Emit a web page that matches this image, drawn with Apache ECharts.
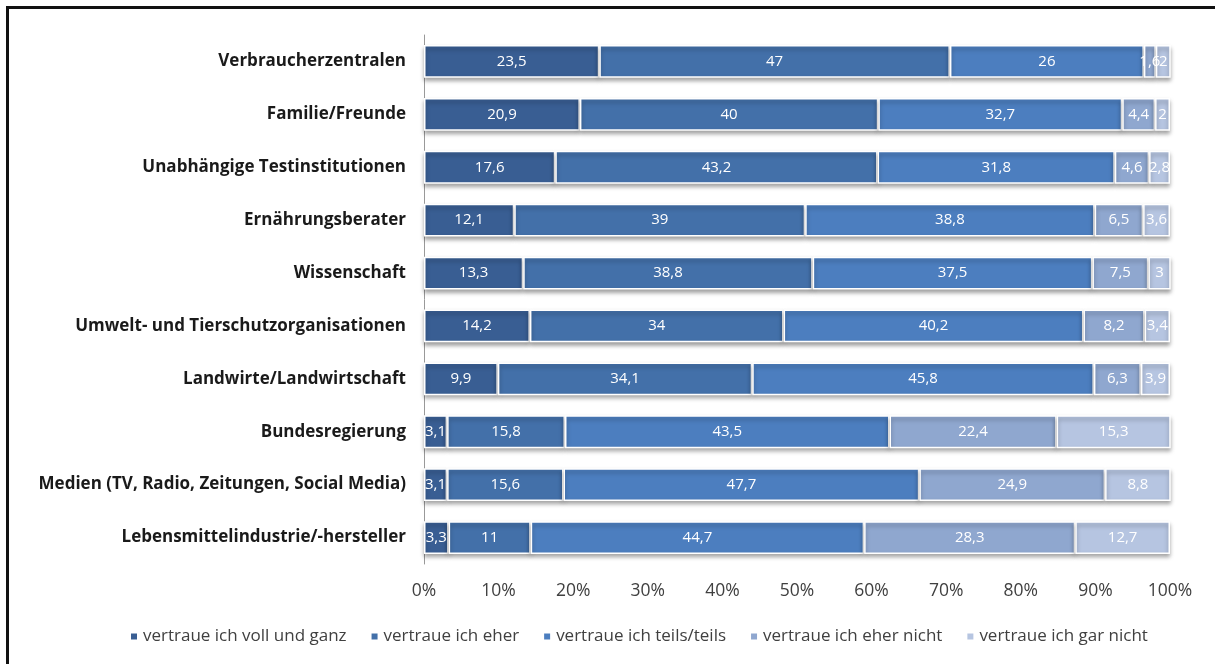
<!DOCTYPE html>
<html>
<head>
<meta charset="utf-8">
<script src="https://cdn.jsdelivr.net/npm/echarts@6/dist/echarts.min.js"></script>
<style>
html, body { margin: 0; padding: 0; background: #fff; overflow: hidden; }
#chart { width: 1215px; height: 664px; }
</style>
</head>
<body>
<div id="chart"></div>
<script>
var myChart = echarts.init(document.getElementById('chart'));
/*--------------------- Daten ----------------------------*/
var categories = ['Verbraucherzentralen', 'Familie/Freunde', 'Unabhängige Testinstitutionen',
    'Ernährungsberater', 'Wissenschaft', 'Umwelt- und Tierschutzorganisationen',
    'Landwirte/Landwirtschaft', 'Bundesregierung', 'Medien (TV, Radio, Zeitungen, Social Media)',
    'Lebensmittelindustrie/-hersteller'];
var seriesNames = ['vertraue ich voll und ganz', 'vertraue ich eher', 'vertraue ich teils/teils',
    'vertraue ich eher nicht', 'vertraue ich gar nicht'];
var vollUndGanz = [23.5, 20.9, 17.6, 12.1, 13.3, 14.2, 9.9, 3.1, 3.1, 3.3];
var eher = [47, 40, 43.2, 39, 38.8, 34, 34.1, 15.8, 15.6, 11];
var teilsTeils = [26, 32.7, 31.8, 38.8, 37.5, 40.2, 45.8, 43.5, 47.7, 44.7];
var eherNicht = [1.6, 4.4, 4.6, 6.5, 7.5, 8.2, 6.3, 22.4, 24.9, 28.3];
var garNicht = [2, 2, 2.8, 3.6, 3, 3.4, 3.9, 15.3, 8.8, 12.7];
var xTicks = [0, 10, 20, 30, 40, 50, 60, 70, 80, 90, 100];
/*--------------------- Farben ----------------------------*/
var colors = ['#395e93', '#4370a9', '#4c7ebf', '#8fa7cf', '#b6c5e1'];
var font = '"Open Sans", Lato, sans-serif';

var allData = [vollUndGanz, eher, teilsTeils, eherNicht, garNicht];
var series = seriesNames.map(function (name, i) {
    return {
        name: name,
        type: 'bar',
        stack: 'total',
        barWidth: '62%',
        data: allData[i],
        itemStyle: {
            color: colors[i],
            borderColor: '#fff',
            borderWidth: 1.5,
            shadowColor: 'rgba(0,0,0,0.35)',
            shadowBlur: 4,
            shadowOffsetY: 3
        },
        label: {
            show: true,
            position: 'inside',
            color: '#fff',
            fontFamily: font,
            fontSize: 15,
            formatter: function (p) {
                return String(p.value).replace('.', ',');
            }
        }
    };
});

var option = {
    backgroundColor: '#fff',
    animation: false,
    color: colors,
    // Rahmen oben und links
    graphic: [{
        type: 'polyline',
        shape: { points: [[7.5, 700], [7.5, 7.5], [1300, 7.5]] },
        style: { stroke: '#111', lineWidth: 3, fill: null }
    }],
    grid: { left: 424, right: 45, top: 35, bottom: 100 },
    legend: {
        bottom: 14,
        left: 124,
        itemWidth: 8,
        itemHeight: 8,
        itemGap: 23,
        icon: 'rect',
        textStyle: { color: '#404040', fontSize: 17, fontFamily: font },
        data: seriesNames
    },
    xAxis: {
        type: 'value',
        min: 0,
        max: 100,
        interval: 10,
        axisLine: { show: false },
        axisTick: { show: false },
        splitLine: { show: false },
        axisLabel: {
            color: '#404040',
            fontSize: 17.5,
            fontFamily: font,
            margin: 18,
            formatter: function (v) { return xTicks.indexOf(v) >= 0 ? v + '%' : ''; }
        }
    },
    yAxis: {
        type: 'category',
        inverse: true,
        data: categories,
        axisLine: { show: true, lineStyle: { color: '#999', width: 1 } },
        axisTick: { show: false },
        axisLabel: {
            color: '#1a1a1a',
            fontSize: 17,
            fontWeight: 'bold',
            fontFamily: font,
            margin: 18
        }
    },
    series: series
};
myChart.setOption(option);
</script>
</body>
</html>
